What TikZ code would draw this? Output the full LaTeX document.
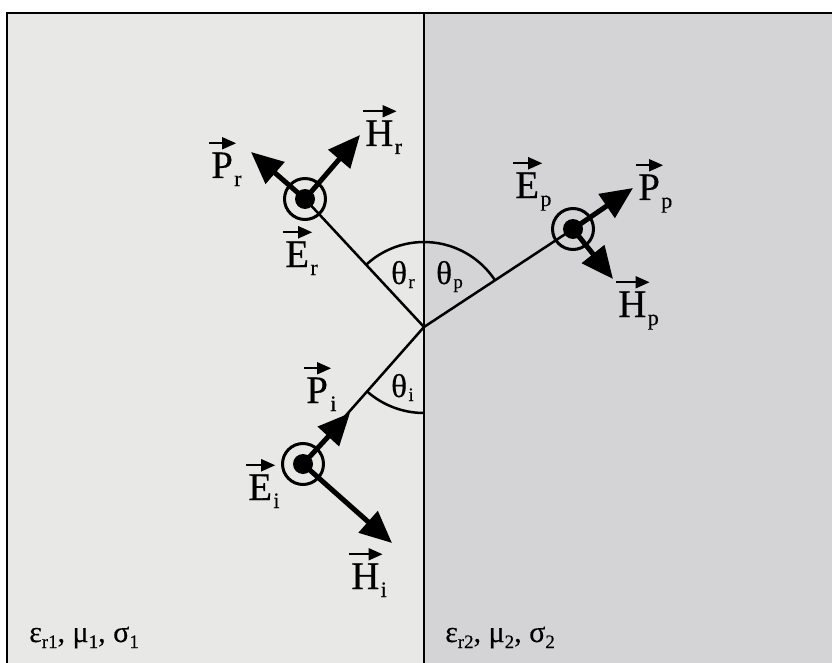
\documentclass[tikz,border=0pt]{standalone}
\usepackage{fontspec}
\setmainfont{Liberation Serif}
\newfontfamily\lettf[FakeBold=0.3]{Liberation Serif}
\newfontfamily\grkf[FakeBold=0.3]{Liberation Serif}
\usetikzlibrary{arrows.meta}
\definecolor{bgL}{RGB}{232,232,231}
\definecolor{bgR}{RGB}{212,211,213}
\newcommand\sbb[1]{\raisebox{-6pt}{\fontsize{19}{19}\selectfont #1}}
\begin{document}
\begin{tikzpicture}[x=1pt,y=-1pt,
  vl/.style={font=\lettf\fontsize{39}{39}\selectfont,inner sep=0pt,anchor=base west},
  sb/.style={font=\grkf\fontsize{22}{22}\selectfont,inner sep=0pt,anchor=base west},
  gk/.style={font=\grkf\fontsize{33}{33}\selectfont,inner sep=0pt,anchor=base west},
  gsb/.style={font=\grkf\fontsize{19}{19}\selectfont,inner sep=0pt,anchor=base west},
  med/.style={font=\grkf\fontsize{30}{30}\selectfont,inner sep=0pt,anchor=base west},
  vecarr/.style={line width=1.8pt,-{Triangle[length=14pt,width=12pt]}},
  field/.style={line width=5pt,-{Triangle[length=32pt,width=28pt]}},
  ray/.style={line width=2.5pt},
  ring/.style={line width=3pt},
  ]
\useasboundingbox (0,0) rectangle (832,663);
\fill[white] (0,0) rectangle (832,663);
\fill[bgL] (7,13) rectangle (424,663);
\fill[bgR] (424,13) rectangle (832,663);
\draw[line width=2.5pt] (7,663) -- (7,13) -- (832,13);
\draw[line width=2.8pt] (424,13) -- (424,663);

% points
\coordinate (O) at (424,327);
\coordinate (Cr) at (305,199);
\coordinate (Cp) at (573,229);
\coordinate (Ci) at (303,464);
\coordinate (PrT) at (251,152);
\coordinate (HrT) at (360,135);
\coordinate (PpT) at (633,188);
\coordinate (HpT) at (613,279);
\coordinate (PiT) at (350,413);
\coordinate (HiT) at (392,543);

% angle arcs
\draw[ray] (O) ++(-132.9:85) arc[start angle=-132.9,end angle=-33.3,radius=85];
\draw[ray] (O) ++(90:86) arc[start angle=90,end angle=131.4,radius=86];

% rays
\draw[ray] (Cr) -- (O) -- (Cp);
\draw[ray] (Ci) -- (O);

% field arrows
\draw[field] (Cr) -- (PrT);
\draw[field] (Cr) -- (HrT);
\draw[field] (Cp) -- (PpT);
\draw[field] (Cp) -- (HpT);
\draw[field] (Ci) -- (PiT);
\draw[field] (Ci) -- (HiT);

% E out of plane
\foreach \c in {Cr,Cp,Ci}{
  \draw[ring] (\c) circle[radius=20.5];
  \fill (\c) circle[radius=10];
}

% vector labels
\node[vl] (Pr) at (211,178) {P};
\node[sb] (Prs) at ([xshift=1pt,yshift=-8pt]Pr.base east) {r};
\node[vl] (Hr) at (365,146) {H};
\node[sb] (Hrs) at ([xshift=1pt,yshift=-8pt]Hr.base east) {r};
\node[vl] (Er) at (285,267) {E};
\node[sb] (Ers) at ([xshift=1pt,yshift=-8pt]Er.base east) {r};
\node[vl] (Ep) at (515,198) {E};
\node[sb] (Eps) at ([xshift=1pt,yshift=-8pt]Ep.base east) {p};
\node[vl] (Pp) at (638,200) {P};
\node[sb] (Pps) at ([xshift=1pt,yshift=-8pt]Pp.base east) {p};
\node[vl] (Hp) at (618,317) {H};
\node[sb] (Hps) at ([xshift=1pt,yshift=-8pt]Hp.base east) {p};
\node[vl] (Pi) at (306,403) {P};
\node[sb] (Pis) at ([xshift=2pt,yshift=-8pt]Pi.base east) {i};
\node[vl] (Ei) at (248,500) {E};
\node[sb] (Eis) at ([xshift=1pt,yshift=-8pt]Ei.base east) {i};
\node[vl] (Hi) at (351,589) {H};
\node[sb] (His) at ([xshift=1pt,yshift=-8pt]Hi.base east) {i};
\foreach \n in {Pr,Hr,Er,Ep,Pp,Hp,Pi,Ei,Hi}{
  \draw[vecarr] ([xshift=-2pt,yshift=9pt]\n.north west) -- ([xshift=3pt,yshift=9pt]\n.north east);
}

% angle labels
\node[gk] (tr) at (391,284) {θ};
\node[gsb] (trs) at ([xshift=1pt,yshift=-4pt]tr.base east) {r};
\node[gk] (tp) at (436,284) {θ};
\node[gsb] (tps) at ([xshift=1pt,yshift=-4pt]tp.base east) {p};
\node[gk] (ti) at (391,397) {θ};
\node[gsb] (tis) at ([xshift=1pt,yshift=-4pt]ti.base east) {i};

% media
\node[med] (m1) at (29,642) {ε\sbb{r1}, μ\sbb{1}, σ\sbb{1}};
\node[med] (m2) at (445,642) {ε\sbb{r2}, μ\sbb{2}, σ\sbb{2}};
\end{tikzpicture}
\end{document}
